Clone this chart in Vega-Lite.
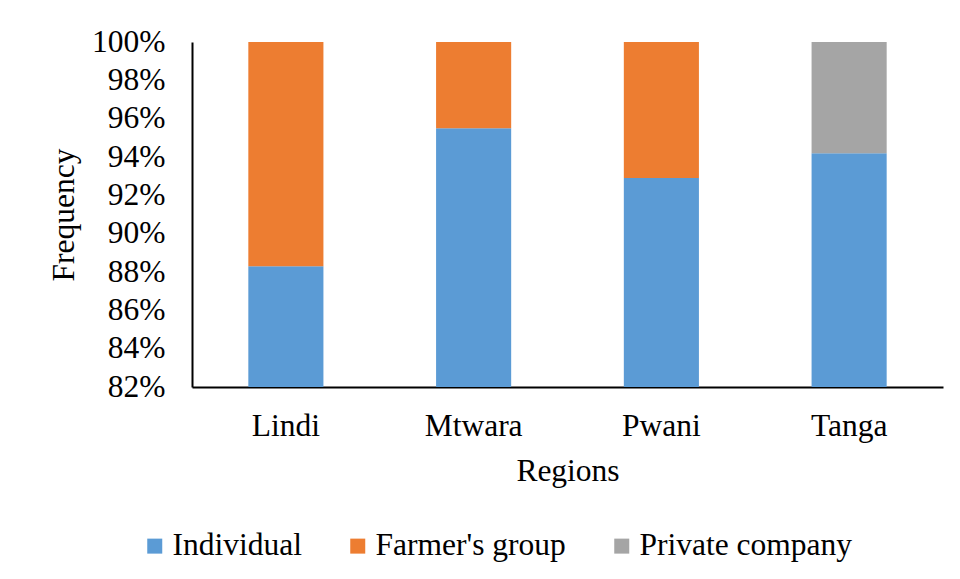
{
  "$schema": "https://vega.github.io/schema/vega-lite/v6.json",
  "width": 751,
  "height": 345,
  "autosize": {"type": "none"},
  "padding": {"left": 192, "top": 42, "right": 17, "bottom": 192},
  "background": "white",
  "config": {
    "view": {"stroke": null},
    "font": "Liberation Serif, Times New Roman, serif",
    "axis": {"labelFont": "Liberation Serif, Times New Roman, serif", "titleFont": "Liberation Serif, Times New Roman, serif"},
    "legend": {"labelFont": "Liberation Serif, Times New Roman, serif", "titleFont": "Liberation Serif, Times New Roman, serif"}
  },
  "data": {
    "values": [
      {"region": "Lindi", "type": "Individual", "share": 0.883, "rank": 1},
      {"region": "Lindi", "type": "Farmer's group", "share": 0.117, "rank": 2},
      {"region": "Mtwara", "type": "Individual", "share": 0.955, "rank": 1},
      {"region": "Mtwara", "type": "Farmer's group", "share": 0.045, "rank": 2},
      {"region": "Pwani", "type": "Individual", "share": 0.929, "rank": 1},
      {"region": "Pwani", "type": "Farmer's group", "share": 0.071, "rank": 2},
      {"region": "Tanga", "type": "Individual", "share": 0.942, "rank": 1},
      {"region": "Tanga", "type": "Private company", "share": 0.058, "rank": 3}
    ]
  },
  "mark": {"type": "bar", "clip": true},
  "encoding": {
    "x": {
      "field": "region",
      "type": "nominal",
      "scale": {"paddingInner": 0.6, "paddingOuter": 0.3},
      "axis": {
        "title": "Regions",
        "labelAngle": 0,
        "labelFontSize": 31.5,
        "labelColor": "#000000",
        "labelBaseline": "alphabetic",
        "labelPadding": 48,
        "ticks": false,
        "tickSize": 0,
        "domainColor": "#000000",
        "domainWidth": 2,
        "titleFontSize": 31.5,
        "titleFontWeight": "normal",
        "titleColor": "#000000",
        "titleBaseline": "alphabetic",
        "titleY": 93
      }
    },
    "y": {
      "field": "share",
      "type": "quantitative",
      "stack": "zero",
      "scale": {"domain": [0.82, 1], "nice": false, "zero": false},
      "axis": {
        "title": "Frequency",
        "format": ".0%",
        "values": [0.82, 0.84, 0.86, 0.88, 0.9, 0.92, 0.94, 0.96, 0.98, 1.0],
        "grid": false,
        "ticks": false,
        "tickSize": 0,
        "labelPadding": 27,
        "labelFontSize": 31.5,
        "labelColor": "#000000",
        "domainColor": "#000000",
        "domainWidth": 2,
        "titleFontSize": 31.5,
        "titleFontWeight": "normal",
        "titleColor": "#000000",
        "titleAngle": -90,
        "titleAlign": "center",
        "titleBaseline": "alphabetic",
        "titleX": -119,
        "titleY": 172.5
      }
    },
    "color": {
      "field": "type",
      "type": "nominal",
      "sort": ["Individual", "Farmer's group", "Private company"],
      "scale": {
        "domain": ["Individual", "Farmer's group", "Private company"],
        "range": ["#5B9BD5", "#ED7D31", "#A5A5A5"]
      },
      "legend": {
        "title": null,
        "orient": "none",
        "direction": "horizontal",
        "legendX": -53,
        "legendY": 488,
        "symbolType": "square",
        "symbolSize": 225,
        "symbolStrokeWidth": 0,
        "symbolOpacity": 1,
        "labelFontSize": 31.5,
        "labelColor": "#000000",
        "labelOffset": 2,
        "labelLimit": 400,
        "columnPadding": 40
      }
    },
    "order": {"field": "rank", "type": "quantitative", "sort": "ascending"}
  }
}
